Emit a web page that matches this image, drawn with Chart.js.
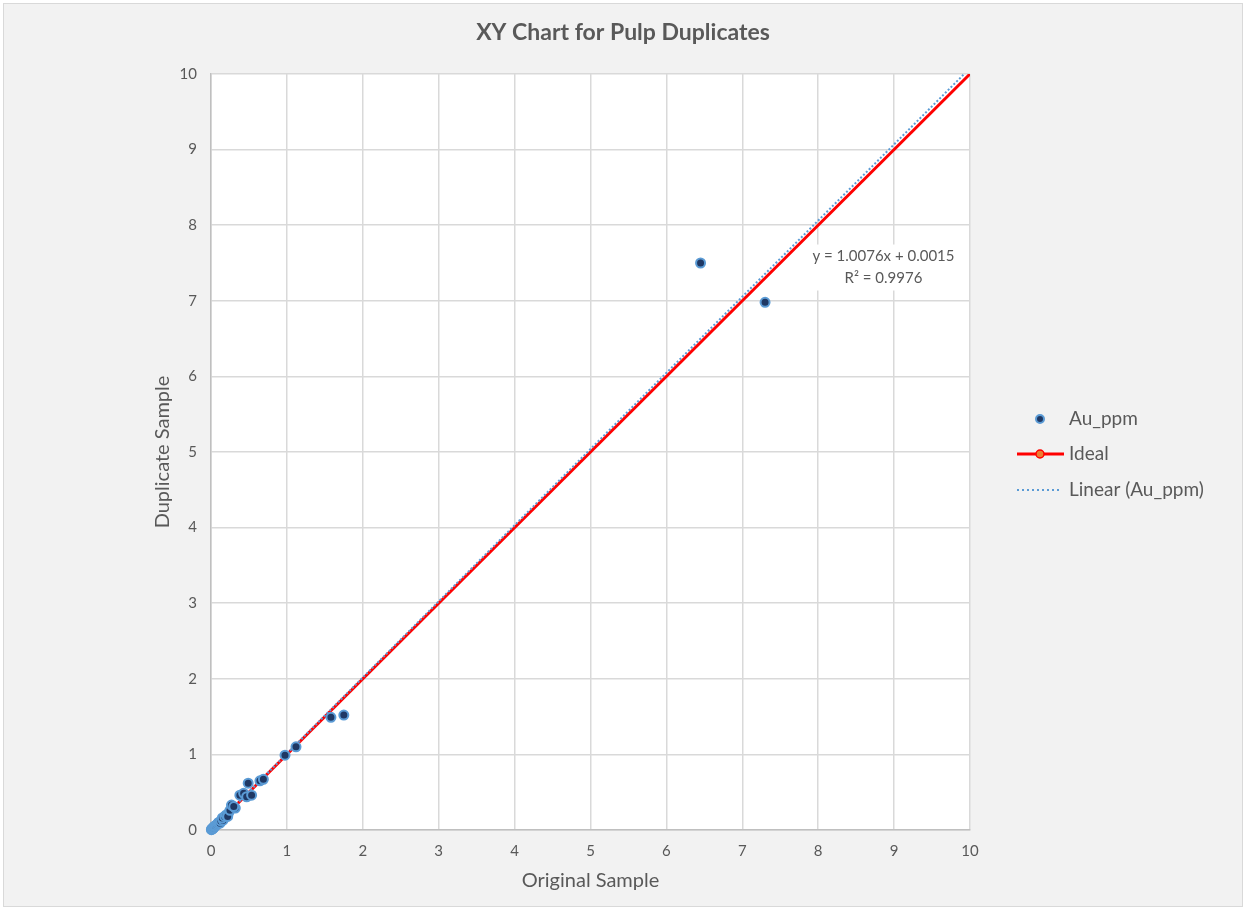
<!DOCTYPE html>
<html>
<head>
<meta charset="utf-8">
<script src="https://cdn.jsdelivr.net/npm/chart.js@4/dist/chart.umd.min.js"></script>
<style>
  html, body { margin: 0; padding: 0; background: #ffffff; }
  canvas { display: block; }
</style>
</head>
<body>
<canvas id="chart" width="1246" height="909"></canvas>
<script>
const originalSample = [
  0.005, 0.01, 0.012, 0.02, 0.025, 0.03, 0.035, 0.04, 0.05, 0.06,
  0.075, 0.09, 0.1, 0.12, 0.13, 0.16, 0.15, 0.18, 0.2, 0.23,
  0.22, 0.25, 0.27, 0.32, 0.3, 0.38, 0.43, 0.47, 0.535, 0.49,
  0.645, 0.69, 0.975, 1.12, 1.58, 1.75, 6.45, 7.3
];
const duplicateSample = [
  0.004, 0.008, 0.015, 0.018, 0.02, 0.03, 0.028, 0.045, 0.05, 0.055,
  0.07, 0.085, 0.1, 0.09, 0.12, 0.13, 0.16, 0.18, 0.2, 0.22,
  0.18, 0.26, 0.33, 0.29, 0.31, 0.46, 0.485, 0.44, 0.46, 0.62,
  0.65, 0.67, 0.99, 1.1, 1.49, 1.52, 7.5, 6.98
];
const idealX = [0, 10];
const idealY = [0, 10];
const trendSlope = 1.0076;
const trendIntercept = 0.0015;
const trendX = [0, 10];
const equationLines = ["y = 1.0076x + 0.0015", "R² = 0.9976"];
const legendLabels = ["Au_ppm", "Ideal", "Linear (Au_ppm)"];

const FONT = "Lato, 'Open Sans', sans-serif";
const TEXT = "#595959";

const auPoints = originalSample.map((x, i) => ({ x: x, y: duplicateSample[i] }));
const idealPoints = idealX.map((x, i) => ({ x: x, y: idealY[i] }));
const trendPoints = trendX.map(x => ({ x: x, y: trendSlope * x + trendIntercept }));

// background, plot area, title, equation box, legend
const decor = {
  id: "decor",
  beforeDraw(chart) {
    const { ctx, chartArea: a } = chart;
    ctx.save();
    ctx.fillStyle = "#ffffff";
    ctx.fillRect(0, 0, chart.width, chart.height);
    ctx.fillStyle = "#f2f2f2";
    ctx.fillRect(3, 3, 1240, 904);
    ctx.strokeStyle = "#d9d9d9";
    ctx.lineWidth = 1;
    ctx.strokeRect(3.5, 3.5, 1239, 903);
    ctx.fillStyle = "#ffffff";
    ctx.fillRect(a.left, a.top, a.right - a.left, a.bottom - a.top);

    ctx.fillStyle = TEXT;
    ctx.font = "bold 23px " + FONT;
    ctx.textAlign = "center";
    ctx.textBaseline = "middle";
    ctx.fillText("XY Chart for Pulp Duplicates", 623, 33);
    ctx.restore();
  },
  beforeDatasetsDraw(chart) {
    const { ctx } = chart;
    const x = chart.scales.x, y = chart.scales.y;
    const cx = x.getPixelForValue(8.86);
    const cy = y.getPixelForValue(7.44);
    ctx.save();
    ctx.fillStyle = "#ffffff";
    ctx.fillRect(cx - 76, cy - 23, 152, 46);
    ctx.fillStyle = TEXT;
    ctx.font = "15px " + FONT;
    ctx.textAlign = "center";
    ctx.textBaseline = "middle";
    ctx.fillText(equationLines[0], cx, cy - 11);
    ctx.fillText(equationLines[1], cx, cy + 11);
    ctx.restore();
  },
  afterDraw(chart) {
    const { ctx } = chart;
    const sx = 1040, tx = 1069;
    const ys = [419, 454, 490];
    ctx.save();
    // Au_ppm marker
    ctx.beginPath();
    ctx.arc(sx, ys[0], 4, 0, Math.PI * 2);
    ctx.fillStyle = "#1f3864";
    ctx.fill();
    ctx.lineWidth = 2;
    ctx.strokeStyle = "#5b9bd5";
    ctx.stroke();
    // Ideal
    ctx.beginPath();
    ctx.moveTo(1017, ys[1]);
    ctx.lineTo(1064, ys[1]);
    ctx.strokeStyle = "#ff0000";
    ctx.lineWidth = 3;
    ctx.stroke();
    ctx.beginPath();
    ctx.arc(sx, ys[1], 4, 0, Math.PI * 2);
    ctx.fillStyle = "#ed7d31";
    ctx.fill();
    ctx.lineWidth = 1.5;
    ctx.strokeStyle = "#ff0000";
    ctx.stroke();
    // Linear trend
    ctx.beginPath();
    ctx.setLineDash([2, 3]);
    ctx.moveTo(1017, ys[2]);
    ctx.lineTo(1062, ys[2]);
    ctx.strokeStyle = "#5b9bd5";
    ctx.lineWidth = 2;
    ctx.stroke();
    ctx.setLineDash([]);

    ctx.fillStyle = TEXT;
    ctx.font = "19px " + FONT;
    ctx.textAlign = "left";
    ctx.textBaseline = "middle";
    legendLabels.forEach((t, i) => ctx.fillText(t, tx, ys[i]));
    ctx.restore();
  }
};

new Chart(document.getElementById("chart"), {
  type: "scatter",
  data: {
    datasets: [
      {
        label: legendLabels[0],
        data: auPoints,
        backgroundColor: "#1f3864",
        borderColor: "#5b9bd5",
        borderWidth: 2,
        pointRadius: 4.5,
        clip: false,
        order: 0
      },
      {
        label: legendLabels[2],
        type: "line",
        data: trendPoints,
        borderColor: "#5b9bd5",
        borderWidth: 2,
        borderDash: [2, 2],
        pointRadius: 0,
        fill: false,
        order: 1
      },
      {
        label: legendLabels[1],
        type: "line",
        data: idealPoints,
        borderColor: "#ff0000",
        borderWidth: 3,
        pointRadius: 0,
        fill: false,
        order: 2
      }
    ]
  },
  options: {
    responsive: false,
    animation: false,
    layout: { padding: { left: 140, right: 276, top: 74, bottom: 15 } },
    plugins: {
      legend: { display: false },
      title: { display: false },
      tooltip: { enabled: false }
    },
    scales: {
      x: {
        type: "linear",
        min: 0,
        max: 10,
        afterFit: s => { s.height = 64; },
        ticks: { stepSize: 1, color: TEXT, padding: 12, font: { family: FONT, size: 15 } },
        grid: { color: "#d9d9d9", lineWidth: 1.5, drawTicks: false },
        border: { color: "#bfbfbf", width: 1.5 },
        title: {
          display: true,
          text: "Original Sample",
          color: TEXT,
          font: { family: FONT, size: 20 },
          padding: { top: 0, bottom: 1 }
        }
      },
      y: {
        type: "linear",
        min: 0,
        max: 10,
        afterFit: s => { s.width = 71; },
        ticks: { stepSize: 1, color: TEXT, padding: 14, font: { family: FONT, size: 15 } },
        grid: { color: "#d9d9d9", lineWidth: 1.5, drawTicks: false },
        border: { color: "#bfbfbf", width: 1.5 },
        title: {
          display: true,
          text: "Duplicate Sample",
          color: TEXT,
          font: { family: FONT, size: 20 },
          padding: { top: 11, bottom: 0 }
        }
      }
    }
  },
  plugins: [decor]
});
</script>
</body>
</html>
